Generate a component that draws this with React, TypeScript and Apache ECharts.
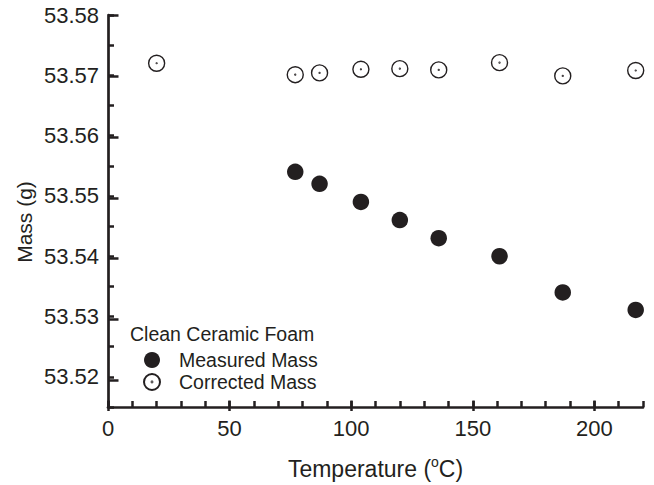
import React, { useEffect, useRef } from "react";
import * as echarts from "echarts";

const measuredTemps = [77, 87, 104, 120, 136, 161, 187, 217];
const measuredMass = [53.554, 53.552, 53.549, 53.546, 53.543, 53.54, 53.534, 53.5311];
const correctedTemps = [20, 77, 87, 104, 120, 136, 161, 187, 217];
const correctedMass = [53.572, 53.5701, 53.5704, 53.571, 53.5711, 53.5709, 53.5721, 53.5699, 53.5708];

const xRange = [0, 220];
const xMajorRange = [0, 200];
const xMajorStep = 50;
const xMinorStep = 10;
const yRange = [53.515, 53.58];
const yMajorRange = [53.52, 53.58];
const yMajorStep = 0.01;
const yMinorStep = 0.005;

const INK = "#231f20";
const FONT = "Liberation Sans, Arial, Helvetica, sans-serif";

const G_LEFT = 108;
const G_RIGHT = 11;
const G_TOP = 15;
const G_BOTTOM = 74;
const W = 654;
const H = 485;

export default function App() {
  const ref = useRef<HTMLDivElement>(null);
  useEffect(() => {
    if (!ref.current) return;
    const chart = echarts.init(ref.current, null, { renderer: "svg" });
    const plotW = W - G_LEFT - G_RIGHT;
    const plotH = H - G_TOP - G_BOTTOM;
    const grid1Right = G_RIGHT + ((xRange[1] - xMajorRange[1]) / (xRange[1] - xRange[0])) * plotW;
    const grid2Bottom = G_BOTTOM + ((yMajorRange[0] - yRange[0]) / (yRange[1] - yRange[0])) * plotH;
    const openSymbol =
      "path://M0,-8A8,8 0 1,1 0,8A8,8 0 1,1 0,-8ZM0,-0.4A0.4,0.4 0 1,1 0,0.4A0.4,0.4 0 1,1 0,-0.4Z";
    const hiddenAxis = {
      axisLine: { show: false },
      axisTick: { show: false },
      axisLabel: { show: false },
      splitLine: { show: false },
    };
    const lw = 2.7;
    const tw = 2.5;
    const majorLen = 10.5;
    const minorLen = 6;
    chart.setOption({
      animation: false,
      backgroundColor: "#fff",
      grid: [
        { left: G_LEFT, right: G_RIGHT, top: G_TOP, bottom: G_BOTTOM },
        { left: G_LEFT, right: grid1Right, top: G_TOP, bottom: G_BOTTOM },
        { left: G_LEFT, right: G_RIGHT, top: G_TOP, bottom: grid2Bottom },
      ],
      xAxis: [
        {
          gridIndex: 0,
          type: "value",
          min: xRange[0],
          max: xRange[1],
          interval: xMinorStep,
          name: "{a|Temperature (}{s|o}{a|C)}",
          nameLocation: "middle",
          nameGap: 48,
          nameTextStyle: {
            rich: {
              a: { fontSize: 23, color: INK, fontFamily: FONT },
              s: { fontSize: 14, color: INK, fontFamily: FONT, padding: [0, 0, 13, 0] },
            },
          },
          axisLine: { show: true, lineStyle: { color: INK, width: lw } },
          axisTick: { show: true, inside: true, length: minorLen, lineStyle: { color: INK, width: tw } },
          axisLabel: {
            fontSize: 22,
            color: INK,
            margin: 10,
            fontFamily: FONT,
            formatter: (v: number) => (Math.round(v) % xMajorStep === 0 ? String(Math.round(v)) : ""),
          },
          splitLine: { show: false },
        },
        {
          gridIndex: 1,
          type: "value",
          min: xMajorRange[0],
          max: xMajorRange[1],
          interval: xMajorStep,
          axisLine: { show: false },
          axisTick: { show: true, inside: true, length: majorLen, lineStyle: { color: INK, width: tw } },
          axisLabel: { show: false },
          splitLine: { show: false },
        },
        { gridIndex: 2, type: "value", min: 0, max: 1, ...hiddenAxis },
      ],
      yAxis: [
        {
          gridIndex: 0,
          type: "value",
          min: yRange[0],
          max: yRange[1],
          interval: yMinorStep,
          axisLine: { show: true, lineStyle: { color: INK, width: lw } },
          axisTick: { show: true, inside: true, length: minorLen, lineStyle: { color: INK, width: tw } },
          axisLabel: {
            fontSize: 22,
            color: INK,
            margin: 9,
            fontFamily: FONT,
            formatter: (v: number) => (Math.round(v * 1000) % 10 === 0 ? v.toFixed(2) : ""),
          },
          splitLine: { show: false },
        },
        { gridIndex: 1, type: "value", min: 0, max: 1, ...hiddenAxis },
        {
          gridIndex: 2,
          type: "value",
          min: yMajorRange[0],
          max: yMajorRange[1],
          interval: yMajorStep,
          axisLine: { show: false },
          axisTick: { show: true, inside: true, length: majorLen, lineStyle: { color: INK, width: tw } },
          axisLabel: { show: false },
          splitLine: { show: false },
        },
      ],
      legend: {
        orient: "vertical",
        left: 138,
        top: 345,
        itemWidth: 16,
        itemHeight: 16,
        itemGap: 2,
        textStyle: { fontSize: 19.5, color: INK, fontFamily: FONT, padding: [0, 0, 0, 14] },
        data: ["Measured Mass", "Corrected Mass"],
      },
      graphic: [
        {
          type: "text",
          left: 130,
          top: 324,
          style: { text: "Clean Ceramic Foam", fontSize: 19.5, fill: INK, fontFamily: FONT },
        },
        {
          type: "text",
          x: 24,
          y: 222,
          rotation: Math.PI / 2,
          style: {
            text: "Mass (g)",
            fontSize: 21,
            fill: INK,
            fontFamily: FONT,
            align: "center",
            verticalAlign: "middle",
          },
        },
      ],
      series: [
        {
          name: "Measured Mass",
          type: "scatter",
          xAxisIndex: 0,
          yAxisIndex: 0,
          symbol: "circle",
          symbolSize: 16.5,
          itemStyle: { color: INK, opacity: 1 },
          data: measuredTemps.map((t, i) => [t, measuredMass[i]]),
        },
        {
          name: "Corrected Mass",
          type: "scatter",
          xAxisIndex: 0,
          yAxisIndex: 0,
          symbol: openSymbol,
          symbolSize: 16,
          itemStyle: { color: "#fff", borderColor: INK, borderWidth: 1.4, opacity: 1 },
          data: correctedTemps.map((t, i) => [t, correctedMass[i]]),
        },
      ],
    });
    return () => chart.dispose();
  }, []);
  return <div ref={ref} style={{ width: W, height: H, position: "absolute", left: 0, top: 0 }} />;
}
